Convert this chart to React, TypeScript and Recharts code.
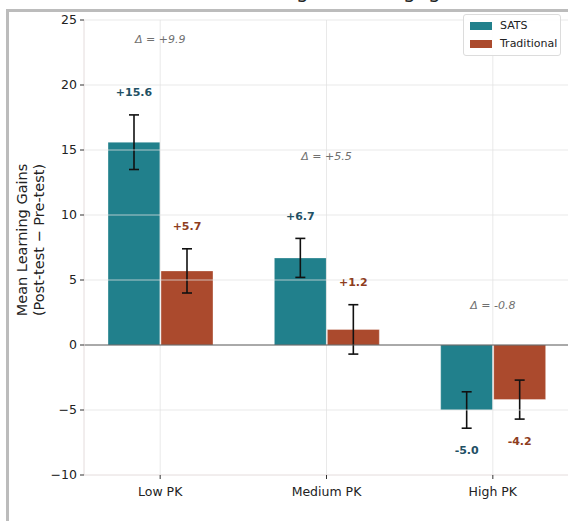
import React from 'react';
import {
  BarChart,
  Bar,
  XAxis,
  YAxis,
  ErrorBar,
  LabelList,
  ReferenceLine,
  ReferenceDot,
  Legend,
} from 'recharts';

// PK groups and mean learning gains (post - pre)
const categories = ['Low PK', 'Medium PK', 'High PK'];
const satsMeans = [15.6, 6.7, -5.0];
const satsErrors = [2.1, 1.5, 1.4];
const tradMeans = [5.7, 1.2, -4.2];
const tradErrors = [1.7, 1.9, 1.5];
// where the Δ annotations sit (data units)
const deltaLabelY = [23.5, 14.5, 3.1];
const yTicks = [-10, -5, 0, 5, 10, 15, 20, 25];

const colors = {
  sats: '#21808c',
  trad: '#ab4a2d',
  satsText: '#1f5064',
  tradText: '#8e3d1e',
};
const FONT = 'DejaVu Sans, sans-serif';

const data = categories.map((group, i) => ({
  group,
  sats: satsMeans[i],
  satsErr: satsErrors[i],
  trad: tradMeans[i],
  tradErr: tradErrors[i],
}));

const fmtSigned = (v: number) => (v >= 0 ? `+${v.toFixed(1)}` : v.toFixed(1));

// value label placed beyond the end of the error bar
const makeValueLabel = (errs: number[], color: string) => (props: any) => {
  const { x, y, width, height, value, index } = props;
  const v = Number(value);
  const yy = Number(y);
  const h = Number(height);
  const top = Math.min(yy, yy + h);
  const bottom = Math.max(yy, yy + h);
  const ppu = Math.abs(h) / Math.abs(v);
  const err = (errs[index] ?? 0) * ppu;
  const cy = v >= 0 ? top - err - 22 : bottom + err + 22;
  return (
    <text
      x={Number(x) + Number(width) / 2}
      y={cy}
      textAnchor="middle"
      dominantBaseline="central"
      fill={color}
      fontSize={11}
      fontWeight="bold"
      fontFamily={FONT}
    >
      {fmtSigned(v)}
    </text>
  );
};

const YLabel = () => (
  <g fontFamily={FONT} fontSize={14.5} fill="#222">
    <text transform="translate(22,240) rotate(-90)" textAnchor="middle" dominantBaseline="central">
      Mean Learning Gains
    </text>
    <text transform="translate(39,240) rotate(-90)" textAnchor="middle" dominantBaseline="central">
      (Post-test − Pre-test)
    </text>
  </g>
);

const LegendBox = () => (
  <div
    style={{
      width: 96,
      height: 40,
      border: '1px solid #dcdcdc',
      borderRadius: 3,
      background: 'rgba(255,255,255,0.9)',
      fontFamily: FONT,
      fontSize: 11,
      color: '#222',
      boxSizing: 'content-box',
    }}
  >
    {[
      { name: 'SATS', color: colors.sats },
      { name: 'Traditional', color: colors.trad },
    ].map((it, i) => (
      <div key={it.name} style={{ position: 'relative', height: 18, marginTop: i === 0 ? 3 : 0 }}>
        <span
          style={{
            position: 'absolute',
            left: 6,
            top: 4,
            width: 22,
            height: 8,
            background: it.color,
          }}
        />
        <span style={{ position: 'absolute', left: 36, top: 1, lineHeight: '14px' }}>{it.name}</span>
      </div>
    ))}
  </div>
);

export default function App() {
  return (
    <div style={{ position: 'absolute', left: 0, top: 0, width: 568, height: 521, overflow: 'hidden', background: '#fff' }}>
      {/* title, mostly cut off by the crop */}
      <svg style={{ position: 'absolute', left: 0, top: 0 }} width={568} height={12}>
        <text x={161} y={-2} fontSize={20} fontFamily={FONT} fill="#222">
          Mean Learning Gains Engagement
        </text>
      </svg>
      {/* figure frame */}
      <div
        style={{
          position: 'absolute',
          left: 6,
          top: 9,
          width: 700,
          height: 700,
          borderLeft: '3px solid #bcbcbc',
          borderTop: '3px solid #bcbcbc',
        }}
      />
      <div style={{ position: 'absolute', left: 0, top: 0 }}>
        <BarChart
          width={568}
          height={521}
          data={data}
          margin={{ top: 20, right: 0, bottom: 0, left: 0 }}
          barSize={52}
          barGap={1}
        >
          <XAxis
            dataKey="group"
            height={46}
            padding={{ left: -7, right: -8 }}
            axisLine={{ stroke: '#e4dcdc' }}
            tickLine={{ stroke: '#333' }}
            tickSize={4}
            tickMargin={8}
            tick={{ fill: '#222', fontSize: 12.5, fontFamily: FONT }}
          />
          <YAxis
            width={84}
            domain={[-10, 25]}
            ticks={yTicks}
            allowDataOverflow
            axisLine={{ stroke: '#e4dcdc' }}
            tickLine={{ stroke: '#333' }}
            tickSize={4}
            tickMargin={3}
            tick={{ fill: '#222', fontSize: 12.5, fontFamily: FONT }}
            tickFormatter={(v: number) => String(v).replace('-', '\u2212')}
            label={{ content: () => <YLabel /> }}
          />
          <Legend
            verticalAlign="middle"
            align="center"
            wrapperStyle={{ top: 14, left: 463, width: 98, height: 42 }}
            content={() => <LegendBox />}
          />
          <Bar dataKey="sats" name="SATS" fill={colors.sats} stroke="#ffffff" strokeOpacity={0.35} isAnimationActive={false}>
            <ErrorBar dataKey="satsErr" width={5} stroke="#111" strokeWidth={1.6} direction="y" />
            <LabelList dataKey="sats" content={makeValueLabel(satsErrors, colors.satsText)} />
          </Bar>
          <Bar dataKey="trad" name="Traditional" fill={colors.trad} stroke="#ffffff" strokeOpacity={0.35} isAnimationActive={false}>
            <ErrorBar dataKey="tradErr" width={5} stroke="#111" strokeWidth={1.6} direction="y" />
            <LabelList dataKey="trad" content={makeValueLabel(tradErrors, colors.tradText)} />
          </Bar>

          {/* grid drawn over the bars, like the reference */}
          {yTicks
            .filter((t) => t !== 0 && t !== -10)
            .map((t) => (
              <ReferenceLine key={`h${t}`} y={t} stroke="#e2e2e2" strokeOpacity={0.75} strokeWidth={1} />
            ))}
          {categories.map((c) => (
            <ReferenceLine key={`v${c}`} x={c} stroke="#e2e2e2" strokeOpacity={0.75} strokeWidth={1} />
          ))}
          <ReferenceLine y={0} stroke="#555" strokeWidth={1} />

          {categories.map((c, i) => (
            <ReferenceDot
              key={`d${c}`}
              x={c}
              y={deltaLabelY[i]}
              r={0}
              fill="none"
              stroke="none"
              label={{
                value: `Δ = ${fmtSigned(satsMeans[i] - tradMeans[i])}`,
                position: 'center',
                fill: '#707070',
                fontSize: 11,
                fontStyle: 'italic',
                fontFamily: FONT,
              }}
            />
          ))}
        </BarChart>
      </div>
    </div>
  );
}
